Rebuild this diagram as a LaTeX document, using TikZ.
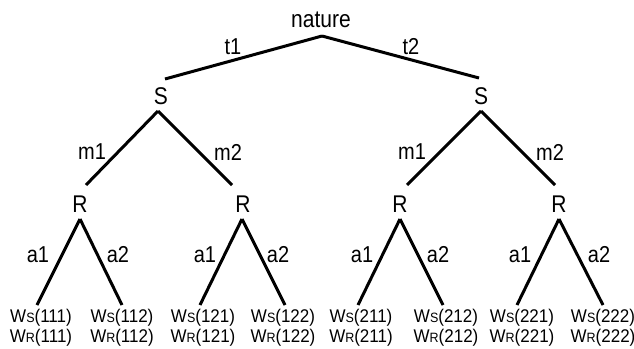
\documentclass[tikz,border=0pt]{standalone}
\usepackage{fontspec}
\setmainfont{Liberation Sans}
\newcommand\smsub[1]{{\fontsize{12.5}{12.5}\selectfont #1}}
\newcommand\tallt[1]{\scalebox{1}[1.15]{#1}}
\newcommand\leaft[1]{\scalebox{1}[1.08]{#1}}
\begin{document}
\begin{tikzpicture}[x=1pt,y=-1pt,
  lab/.style={font=\fontsize{21}{21}\selectfont, inner sep=0pt},
  elab/.style={font=\fontsize{20}{20}\selectfont, inner sep=0pt},
  leaf/.style={font=\fontsize{17}{19}\selectfont, inner sep=0pt},
  edge/.style={line width=3pt}]
\useasboundingbox (0,0) rectangle (634,348);
% decision nodes
\node[lab] (nat) at (321,20) {\tallt{nature}};
\coordinate (natb) at (322,36);
\node[lab] (S1) at (161,96) {\tallt{S}};
\coordinate (S1t) at (165,79); \coordinate (S1b) at (158,111);
\node[lab] (S2) at (481,96) {\tallt{S}};
\coordinate (S2t) at (479,78); \coordinate (S2b) at (481,111);
\node[lab] (R11) at (80,204) {\tallt{R}};
\coordinate (R11t) at (86,185); \coordinate (R11b) at (80,219);
\node[lab] (R12) at (243,204) {\tallt{R}};
\coordinate (R12t) at (232,185); \coordinate (R12b) at (242,219);
\node[lab] (R21) at (400,204) {\tallt{R}};
\coordinate (R21t) at (407,185); \coordinate (R21b) at (400,219);
\node[lab] (R22) at (559,204) {\tallt{R}};
\coordinate (R22t) at (555,185); \coordinate (R22b) at (559,219);
% leaves
\foreach \n/\x/\lx in {111/41/37,112/122/122,121/203/200,122/283/285,211/361/358,212/446/443,221/522/517,222/603/603}{
  \node[leaf] (L\n) at (\x,328) {\leaft{\shortstack{W\smsub{S}(\n)\\W\smsub{R}(\n)}}};
  \coordinate (L\n t) at (\lx,305);
}
% edges
\draw[edge] (natb) -- (S1t);
\draw[edge] (natb) -- (S2t);
\draw[edge] (S1b) -- (R11t);
\draw[edge] (S1b) -- (R12t);
\draw[edge] (S2b) -- (R21t);
\draw[edge] (S2b) -- (R22t);
\draw[edge] (R11b) -- (L111t);
\draw[edge] (R11b) -- (L112t);
\draw[edge] (R12b) -- (L121t);
\draw[edge] (R12b) -- (L122t);
\draw[edge] (R21b) -- (L211t);
\draw[edge] (R21b) -- (L212t);
\draw[edge] (R22b) -- (L221t);
\draw[edge] (R22b) -- (L222t);
% edge labels
\node[elab] (t1) at (233,47) {\tallt{t1}};
\node[elab] (t2) at (411,47) {\tallt{t2}};
\node[elab] (m11) at (92,152) {\tallt{m1}};
\node[elab] (m12) at (228,152) {\tallt{m2}};
\node[elab] (m21) at (412,152) {\tallt{m1}};
\node[elab] (m22) at (550,152) {\tallt{m2}};
\node[elab] (a111) at (38,255) {\tallt{a1}};
\node[elab] (a112) at (118,255) {\tallt{a2}};
\node[elab] (a121) at (205,255) {\tallt{a1}};
\node[elab] (a122) at (278,255) {\tallt{a2}};
\node[elab] (a211) at (362,255) {\tallt{a1}};
\node[elab] (a212) at (438,255) {\tallt{a2}};
\node[elab] (a221) at (520,255) {\tallt{a1}};
\node[elab] (a222) at (599,255) {\tallt{a2}};
\end{tikzpicture}
\end{document}
